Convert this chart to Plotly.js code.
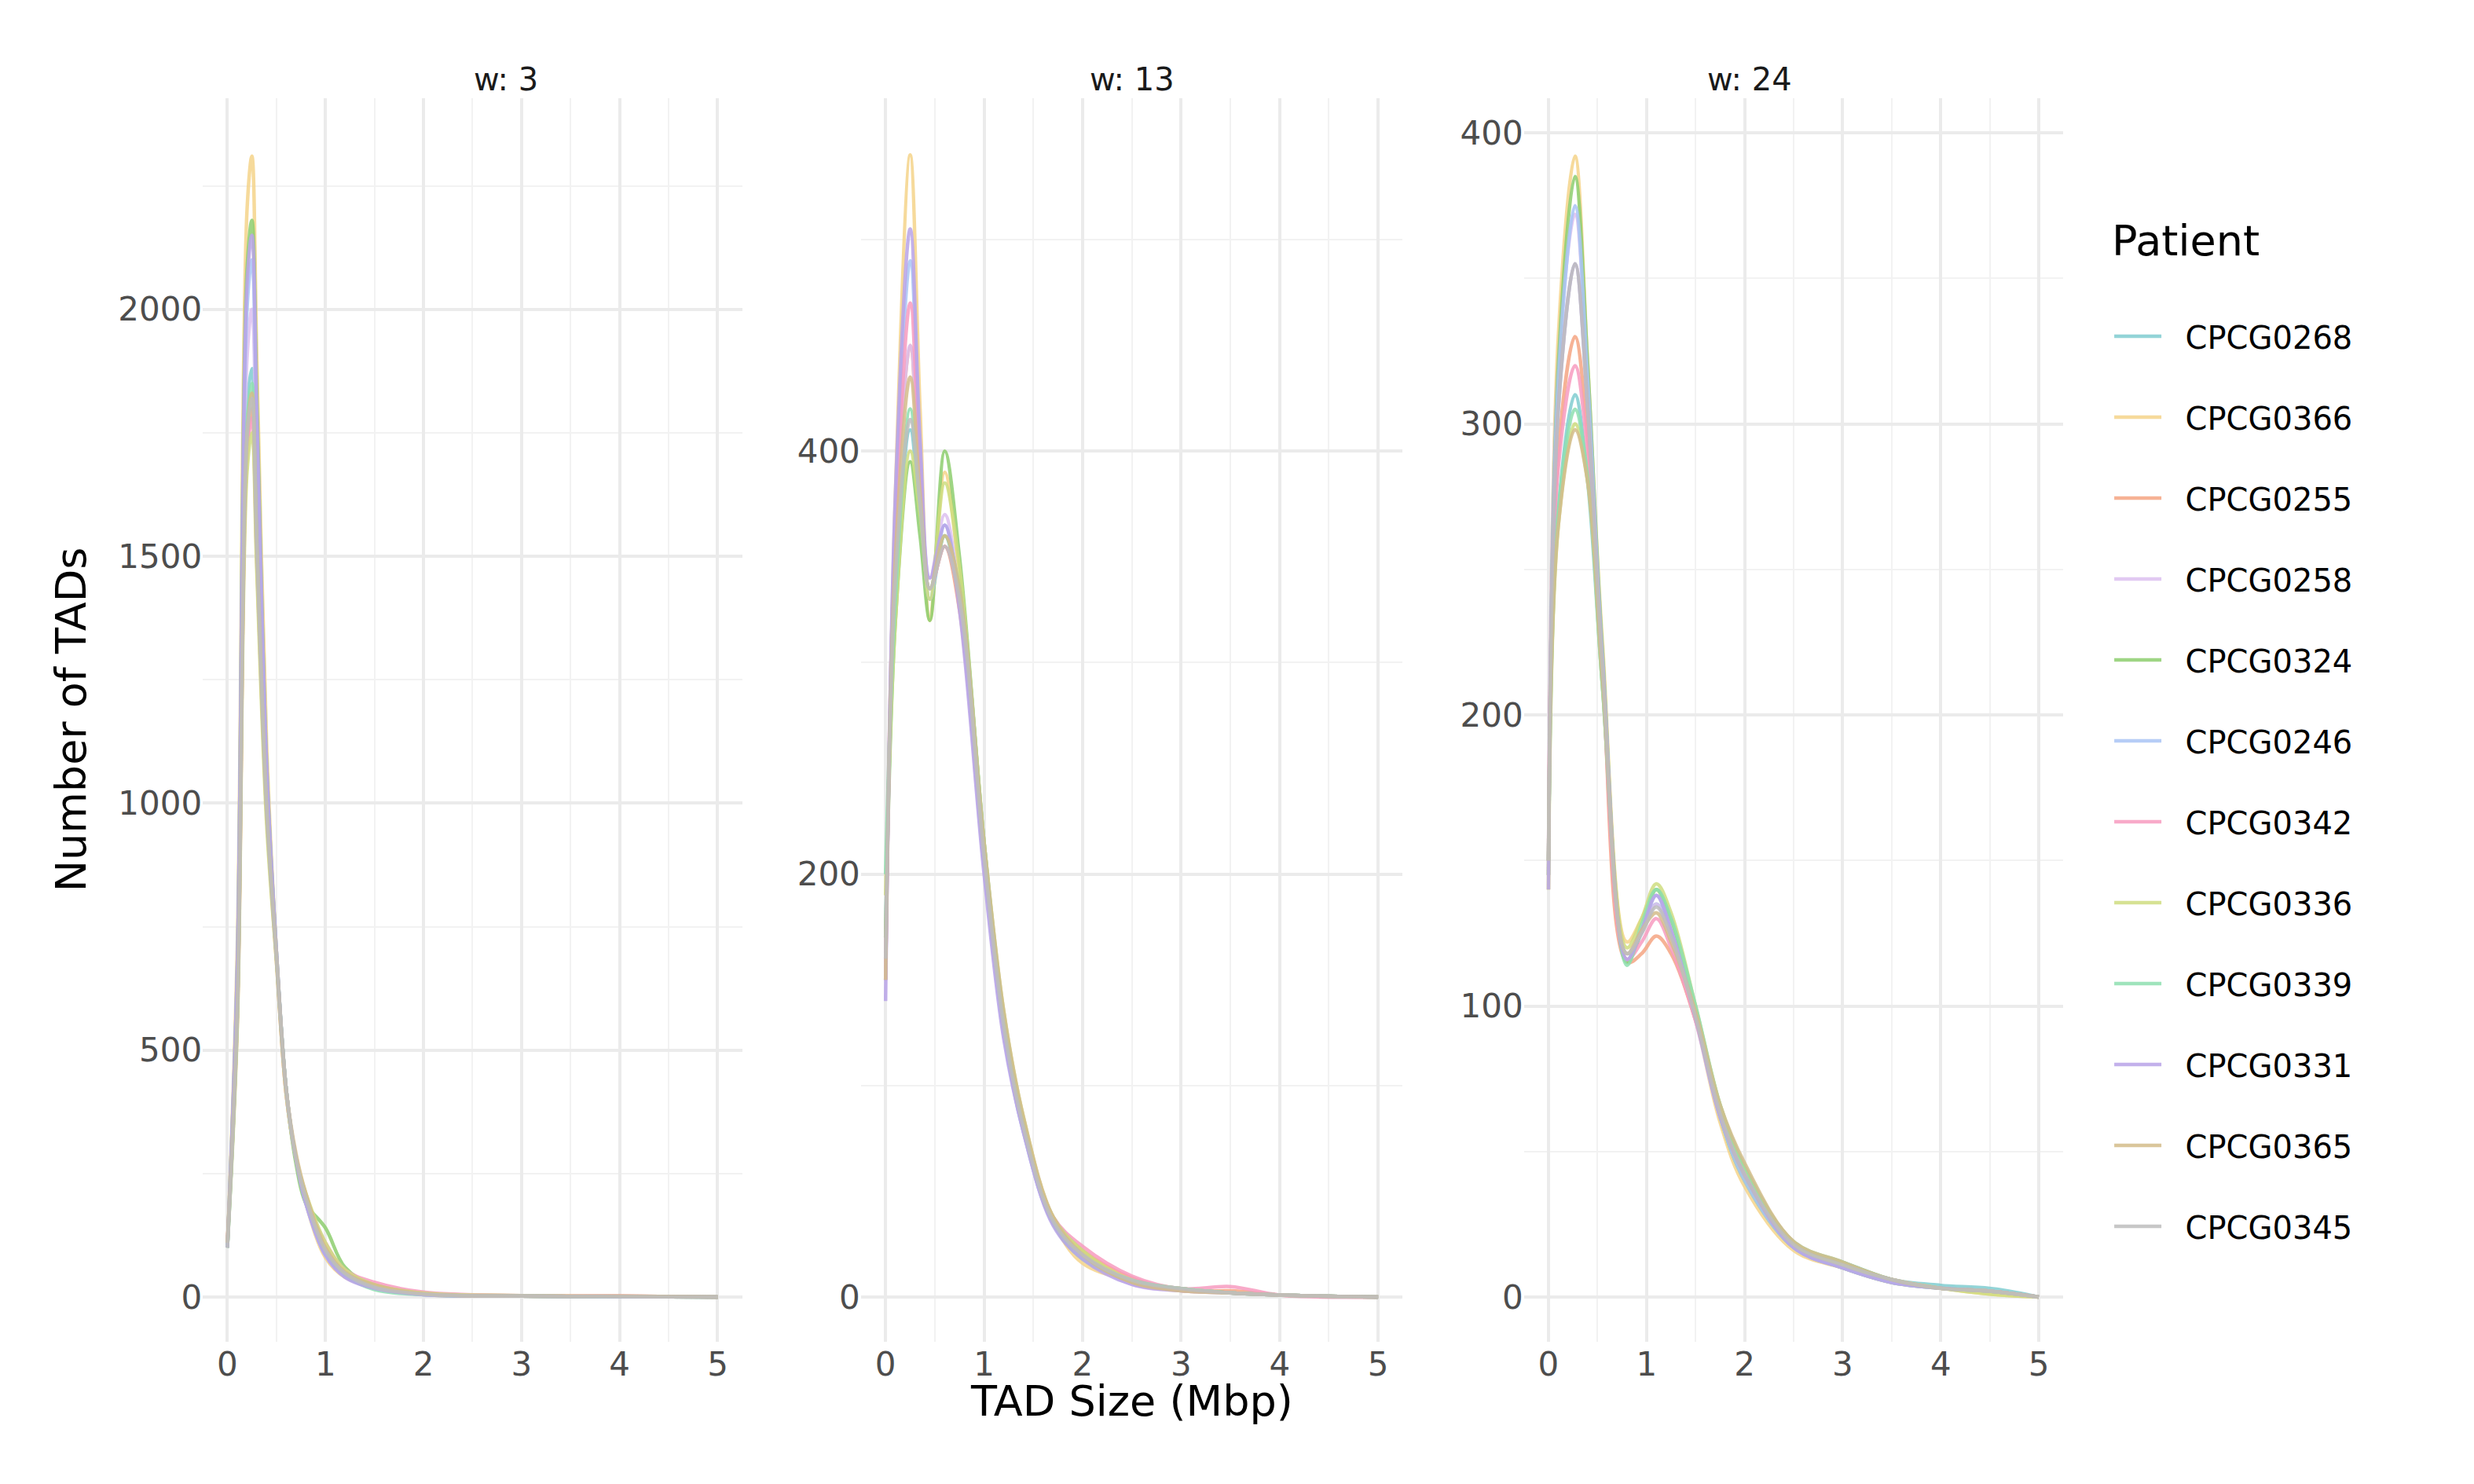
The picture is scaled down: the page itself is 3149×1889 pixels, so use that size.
<!DOCTYPE html>
<html><head><meta charset="utf-8">
<script src="https://cdn.plot.ly/plotly-3.0.1.min.js"></script>
<style>body{margin:0;background:#fff}</style></head>
<body><div id="chart" style="width:3149px;height:1889px"></div>
<script>
const patients = ['CPCG0268','CPCG0366','CPCG0255','CPCG0258','CPCG0324','CPCG0246','CPCG0342','CPCG0336','CPCG0339','CPCG0331','CPCG0365','CPCG0345'];
const colors = ['#80CDD0','#F5D38A','#F4A582','#DCC0F0','#8DCE6E','#A9C4F5','#F79BBF','#CFDD80','#8EDFB0','#B8A3E8','#D4BC8A','#BDBDBD'];

// w: 3
const x3 = [0,0.1,0.2,0.25,0.3,0.4,0.5,0.6,0.7,0.8,1.0,1.2,1.5,2,3,4,5];
const w3 = [
  [100,560,1800,1880,1560,1000,690,420,280,200,90,45,20,6,2,1,0],
  [100,700,2200,2310,1900,1120,700,420,280,190,80,40,20,5,2,1,0],
  [110,560,1720,1800,1500,980,680,410,280,200,100,50,25,8,3,2,0],
  [100,620,1900,2000,1680,1050,700,420,280,190,85,42,18,5,2,1,0],
  [100,660,2080,2180,1820,1080,700,420,270,190,140,60,22,6,2,1,0],
  [100,650,2000,2100,1750,1060,700,420,280,190,85,42,18,5,2,1,0],
  [110,550,1700,1780,1490,980,690,410,280,200,110,55,30,10,3,2,0],
  [100,540,1670,1750,1470,960,680,410,280,210,110,55,25,8,3,1,0],
  [100,570,1770,1850,1550,1000,690,420,280,200,90,45,15,5,2,1,0],
  [100,660,2050,2150,1790,1080,700,420,280,190,85,40,18,5,2,1,0],
  [110,570,1740,1830,1530,990,690,420,290,210,100,50,25,7,2,2,0],
  [100,570,1740,1820,1520,990,690,420,280,200,95,48,20,6,2,1,0]
];
// w: 13
const x13 = [0,0.1,0.25,0.35,0.45,0.6,0.75,1.0,1.2,1.4,1.7,2.0,2.5,3,3.5,4,5];
const w13 = [
  [170,330,410,370,330,360,330,210,130,80,38,22,7,4,2,1,0],
  [160,380,540,420,320,390,340,210,130,82,36,16,8,4,2,1,0],
  [150,360,450,380,335,355,325,205,128,80,36,22,9,3,3,1,0],
  [160,360,450,385,340,370,330,205,125,78,35,20,6,3,2,1,0],
  [170,320,395,360,320,400,350,215,130,80,36,20,7,4,2,1,0],
  [150,370,490,400,330,365,330,205,125,78,35,20,8,4,2,1,0],
  [150,360,470,390,335,355,330,210,130,80,38,24,10,4,5,1,0],
  [190,320,400,370,330,385,345,215,135,85,38,22,8,4,2,1,0],
  [200,330,420,375,335,360,335,215,132,82,35,18,8,4,2,1,0],
  [140,380,505,405,340,365,325,200,122,78,34,18,6,3,2,1,0],
  [150,350,435,380,335,360,335,215,135,85,38,20,7,3,2,1,0],
  [160,340,415,375,335,355,330,208,128,80,36,20,8,4,2,1,0]
];
// w: 24
const x24 = [0,0.1,0.27,0.4,0.55,0.8,0.95,1.1,1.25,1.5,1.75,2,2.5,3,3.5,4,4.5,5];
const w24 = [
  [150,270,310,280,210,116,125,135,125,96,64,42,18,12,6,4,3,0],
  [140,330,392,320,225,122,130,140,128,96,60,38,16,10,5,3,1,0],
  [145,290,330,295,215,115,118,124,118,95,64,44,19,11,6,3,2,0],
  [150,320,372,315,220,118,125,135,124,95,62,42,18,11,6,3,2,0],
  [145,320,385,320,222,115,126,140,130,98,62,40,17,10,5,3,2,0],
  [145,315,375,315,220,116,126,138,126,96,62,40,17,10,5,3,2,0],
  [150,285,320,290,212,116,122,130,120,95,63,42,18,11,6,3,2,0],
  [140,265,300,280,210,120,130,142,132,100,66,44,18,11,6,3,1,0],
  [150,270,305,282,210,114,128,140,130,100,66,45,19,12,6,3,2,0],
  [140,305,355,305,218,116,126,138,126,96,62,42,17,10,5,3,2,0],
  [150,265,298,280,212,118,126,132,122,98,66,46,19,12,6,3,2,0],
  [150,305,355,305,218,118,125,134,124,96,63,42,18,11,6,3,2,0]
];

const traces = [];
const panels = [[x3,w3,'x','y'],[x13,w13,'x2','y2'],[x24,w24,'x3','y3']];
panels.forEach((p,pi)=>{
  patients.forEach((name,i)=>{
    traces.push({x:p[0], y:p[1][i], xaxis:p[2], yaxis:p[3], type:'scatter', mode:'lines',
      name:'  '+name, legendgroup:name, showlegend:pi===0, opacity:0.85,
      line:{color:colors[i], width:4.5, shape:'spline', smoothing:1}, hoverinfo:'skip'});
  });
});

const tickFont = {family:'DejaVu Sans', size:42, color:'#4d4d4d'};
function xa(dom){return {domain:dom, range:[-0.25,5.25], tickvals:[0,1,2,3,4,5], showgrid:true, gridcolor:'#ebebeb', gridwidth:4,
  minor:{dtick:0.5, showgrid:true, gridcolor:'#f2f2f2', gridwidth:2}, zeroline:false, showline:false, ticks:'', tickfont:tickFont};}
function ya(r, dt){return {domain:[0.096,0.934], range:r, dtick:dt, showgrid:true, gridcolor:'#ebebeb', gridwidth:4,
  minor:{dtick:dt/2, showgrid:true, gridcolor:'#f2f2f2', gridwidth:2}, zeroline:false, showline:false, ticks:'', tickfont:tickFont};}

const layout = {
  width:3149, height:1889, margin:{l:0,r:0,t:0,b:0}, paper_bgcolor:'#fff', plot_bgcolor:'#fff',
  font:{family:'DejaVu Sans'},
  xaxis:xa([0.082,0.300]), xaxis2:xa([0.348,0.567]), xaxis3:xa([0.616,0.834]),
  yaxis:ya([-90,2428],500), yaxis2:Object.assign(ya([-21,567],200),{anchor:'x2'}), yaxis3:Object.assign(ya([-15.3,412],100),{anchor:'x3'}),
  legend:{x:0.853, y:0.865, xanchor:'left', yanchor:'top', tracegroupgap:48,
    title:{text:'Patient<br> ', font:{size:54, color:'#000'}}, font:{size:40, color:'#000'}, itemwidth:60},
  annotations:[
    {text:'w: 3', x:0.191, y:0.96, xref:'paper', yref:'paper', showarrow:false, font:{size:40,color:'#1a1a1a'}},
    {text:'w: 13', x:0.4575, y:0.96, xref:'paper', yref:'paper', showarrow:false, font:{size:40,color:'#1a1a1a'}},
    {text:'w: 24', x:0.725, y:0.96, xref:'paper', yref:'paper', showarrow:false, font:{size:40,color:'#1a1a1a'}},
    {text:'TAD Size (Mbp)', x:0.4575, y:0.038, xref:'paper', yref:'paper', showarrow:false, font:{size:54,color:'#000'}},
    {text:'Number of TADs', x:0.018, y:0.515, xref:'paper', yref:'paper', showarrow:false, textangle:-90, font:{size:54,color:'#000'}}
  ]
};
Plotly.newPlot('chart', traces, layout, {staticPlot:true});
</script></body></html>
